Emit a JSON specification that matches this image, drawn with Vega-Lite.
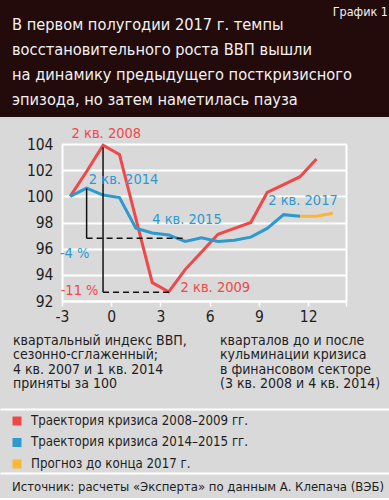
{
  "$schema": "https://vega.github.io/schema/vega-lite/v6.json",
  "padding": 0,
  "background": "#d9d9d9",
  "spacing": 9,
  "config": {
    "font": "'DejaVu Sans Condensed', 'Liberation Sans Narrow', sans-serif",
    "view": {"stroke": null},
    "axis": {"labelOverlap": false}
  },
  "datasets": {
    "title": [
      {"line": 0, "text": "В первом полугодии 2017 г. темпы"},
      {"line": 1, "text": "восстановительного роста ВВП вышли"},
      {"line": 2, "text": "на динамику предыдущего посткризисного"},
      {"line": 3, "text": "эпизода, но затем наметилась пауза"}
    ],
    "tag": [{"line": -0.522, "text": "График 1"}],
    "series": [
      {"q": -2.5, "v": 100.0, "s": "r"},
      {"q": -1.5, "v": 101.9, "s": "r"},
      {"q": -0.5, "v": 103.9, "s": "r"},
      {"q": 0.5, "v": 103.2, "s": "r"},
      {"q": 1.5, "v": 98.3, "s": "r"},
      {"q": 2.5, "v": 93.4, "s": "r"},
      {"q": 3.5, "v": 92.7, "s": "r"},
      {"q": 4.5, "v": 94.4, "s": "r"},
      {"q": 5.5, "v": 95.75, "s": "r"},
      {"q": 6.5, "v": 97.1, "s": "r"},
      {"q": 7.5, "v": 97.55, "s": "r"},
      {"q": 8.5, "v": 98.0, "s": "r"},
      {"q": 9.5, "v": 100.3, "s": "r"},
      {"q": 10.5, "v": 100.9, "s": "r"},
      {"q": 11.5, "v": 101.5, "s": "r"},
      {"q": 12.5, "v": 102.85, "s": "r"},
      {"q": -2.5, "v": 100.0, "s": "b"},
      {"q": -1.5, "v": 100.62, "s": "b"},
      {"q": -0.5, "v": 100.1, "s": "b"},
      {"q": 0.5, "v": 99.9, "s": "b"},
      {"q": 1.5, "v": 97.56, "s": "b"},
      {"q": 2.5, "v": 97.2, "s": "b"},
      {"q": 3.5, "v": 97.05, "s": "b"},
      {"q": 4.5, "v": 96.55, "s": "b"},
      {"q": 5.5, "v": 96.83, "s": "b"},
      {"q": 6.5, "v": 96.55, "s": "b"},
      {"q": 7.5, "v": 96.65, "s": "b"},
      {"q": 8.5, "v": 96.88, "s": "b"},
      {"q": 9.5, "v": 97.55, "s": "b"},
      {"q": 10.5, "v": 98.6, "s": "b"},
      {"q": 11.5, "v": 98.48, "s": "b"},
      {"q": 11.5, "v": 98.48, "s": "o"},
      {"q": 12.5, "v": 98.48, "s": "o"},
      {"q": 13.5, "v": 98.7, "s": "o"}
    ],
    "vlines": [
      {"q": -1.5, "v1": 100.6, "v2": 96.79},
      {"q": -0.5, "v1": 103.75, "v2": 92.66}
    ],
    "hlines": [
      {"q1": -1.5, "q2": 4.4, "v": 96.79},
      {"q1": -0.5, "q2": 3.6, "v": 92.66}
    ],
    "labels": [
      {"q": -0.3, "v": 104.74, "t": "2 кв. 2008", "s": "r"},
      {"q": 0.75, "v": 101.25, "t": "2 кв. 2014", "s": "b"},
      {"q": 4.61, "v": 98.19, "t": "4 кв. 2015", "s": "b"},
      {"q": 11.68, "v": 99.66, "t": "2 кв. 2017", "s": "b"},
      {"q": -2.23, "v": 95.59, "t": "-4 %", "s": "b"},
      {"q": -1.93, "v": 92.8, "t": "-11 %", "s": "r"},
      {"q": 6.34, "v": 93.03, "t": "2 кв. 2009", "s": "r"}
    ],
    "notes": [
      {"c": 0, "l": 0, "t": "квартальный индекс ВВП,"},
      {"c": 0, "l": 1, "t": "сезонно-сглаженный;"},
      {"c": 0, "l": 2, "t": "4 кв. 2007 и 1 кв. 2014"},
      {"c": 0, "l": 3, "t": "приняты за 100"},
      {"c": 1, "l": 0, "t": "кварталов до и после"},
      {"c": 1, "l": 1, "t": "кульминации кризиса"},
      {"c": 1, "l": 2, "t": "в финансовом секторе"},
      {"c": 1, "l": 3, "t": "(3 кв. 2008 и 4 кв. 2014)"}
    ],
    "legend": [
      {"i": 0, "s": "r", "t": "Траектория кризиса 2008–2009 гг."},
      {"i": 1, "s": "b", "t": "Траектория кризиса 2014–2015 гг."},
      {"i": 2, "s": "o", "t": "Прогноз до конца 2017 г."}
    ],
    "source": [{"t": "Источник: расчеты «Эксперта» по данным А. Клепача (ВЭБ)"}]
  },
  "vconcat": [
    {
      "width": 389,
      "height": 117,
      "view": {"fill": "#230b0b", "stroke": null},
      "layer": [
        {
          "data": {"name": "title"},
          "mark": {"type": "text", "align": "left", "baseline": "middle", "fontSize": 16.3, "color": "#f2f2f2"},
          "encoding": {
            "x": {"datum": 0.0308, "type": "quantitative", "scale": {"domain": [0, 1], "nice": false, "zero": false}, "axis": null},
            "y": {"field": "line", "type": "quantitative", "scale": {"domain": [-1.004, 3.695], "reverse": true, "nice": false, "zero": false}, "axis": null},
            "text": {"field": "text"}
          }
        },
        {
          "data": {"name": "tag"},
          "mark": {"type": "text", "align": "right", "baseline": "middle", "fontSize": 12.5, "color": "#f2f2f2"},
          "encoding": {
            "x": {"datum": 0.9974, "type": "quantitative", "scale": {"domain": [0, 1], "nice": false, "zero": false}, "axis": null},
            "y": {"field": "line", "type": "quantitative", "scale": {"domain": [-1.004, 3.695], "reverse": true, "nice": false, "zero": false}, "axis": null},
            "text": {"field": "text"}
          }
        }
      ]
    },
    {
      "spacing": 0,
      "vconcat": [
        {
          "spacing": 0,
          "bounds": "flush",
          "hconcat": [
            {
              "width": 62,
              "height": 157,
              "data": {"values": []},
              "mark": "point",
              "encoding": {
                "y": {
                  "field": "v", "type": "quantitative",
                  "scale": {"domain": [92, 104], "nice": false, "zero": false},
                  "axis": {
                    "orient": "left", "offset": -62, "values": [92, 94, 96, 98, 100, 102, 104],
                    "grid": false, "ticks": false, "domain": false, "labelOverlap": false,
                    "labelFontSize": 15.5, "labelColor": "#1e1e1e", "labelPadding": 9, "title": null
                  }
                }
              }
            },
            {
              "width": 284,
              "height": 157,
              "resolve": {"axis": {"x": "independent", "y": "independent"}},
              "layer": [
                {
                  "data": {"name": "series"},
                  "mark": {"type": "line", "strokeWidth": 3},
                  "encoding": {
                    "x": {
                      "field": "q", "type": "quantitative",
                      "scale": {"domain": [-3, 14.3], "nice": false, "zero": false},
                      "axis": {
                        "orient": "bottom", "values": [-3, 0, 3, 6, 9, 12, 14.3],
                        "labelExpr": "datum.value > 13 ? '' : (datum.value < 0 ? '-' + abs(datum.value) : datum.label)",
                        "domain": true, "domainColor": "#ffffff", "domainWidth": 2,
                        "grid": false, "ticks": true, "tickColor": "#ffffff", "tickWidth": 1.5, "tickSize": 5,
                        "labelFontSize": 15.5, "labelColor": "#1e1e1e", "labelPadding": 3, "labelFlush": false,
                        "title": null, "minExtent": 24, "maxExtent": 24, "zindex": 0
                      }
                    },
                    "y": {
                      "field": "v", "type": "quantitative",
                      "scale": {"domain": [92, 104], "nice": false, "zero": false},
                      "axis": {
                        "orient": "left", "values": [92, 94, 96, 98, 100, 102, 104],
                        "grid": true, "gridColor": "#ffffff", "gridWidth": 2, "gridOpacity": 1,
                        "labels": false, "ticks": false,
                        "domain": true, "domainColor": "#ffffff", "domainWidth": 2,
                        "title": null, "minExtent": 0, "maxExtent": 0, "zindex": 0
                      }
                    },
                    "color": {
                      "field": "s", "type": "nominal",
                      "scale": {"domain": ["r", "b", "o"], "range": ["#f04848", "#2a9ad0", "#fbb634"]},
                      "legend": null
                    }
                  }
                },
                {
                  "data": {"name": "vlines"},
                  "mark": {"type": "rule", "color": "#111111", "strokeWidth": 1.5},
                  "encoding": {
                    "x": {"field": "q", "type": "quantitative", "axis": null},
                    "y": {"field": "v1", "type": "quantitative", "axis": null},
                    "y2": {"field": "v2"}
                  }
                },
                {
                  "data": {"name": "hlines"},
                  "mark": {"type": "rule", "color": "#111111", "strokeWidth": 1.5, "strokeDash": [6, 4]},
                  "encoding": {
                    "x": {"field": "q1", "type": "quantitative", "axis": null},
                    "x2": {"field": "q2"},
                    "y": {
                      "field": "v", "type": "quantitative",
                      "axis": {
                        "orient": "right", "labels": false, "ticks": false, "grid": false,
                        "domain": true, "domainColor": "#ffffff", "domainWidth": 2,
                        "title": null, "minExtent": 0, "maxExtent": 0, "zindex": 0
                      }
                    }
                  }
                },
                {
                  "data": {"name": "labels"},
                  "mark": {"type": "text", "align": "center", "baseline": "middle", "fontSize": 14.5},
                  "encoding": {
                    "x": {"field": "q", "type": "quantitative", "axis": null},
                    "y": {"field": "v", "type": "quantitative", "axis": null},
                    "text": {"field": "t"},
                    "color": {"field": "s", "type": "nominal", "legend": null}
                  }
                }
              ]
            }
          ]
        },
        {
          "width": 389,
          "height": 84,
          "data": {"name": "notes"},
          "mark": {"type": "text", "align": "left", "baseline": "middle", "fontSize": 14, "color": "#1e1e1e"},
          "encoding": {
            "x": {
              "field": "c", "type": "quantitative",
              "scale": {"domain": [-0.0628, 1.8164], "nice": false, "zero": false},
              "axis": {"orient": "bottom", "labels": false, "ticks": false, "grid": false, "domain": true, "domainColor": "#ffffff", "domainWidth": 2, "title": null, "minExtent": 0, "maxExtent": 0}
            },
            "y": {"field": "l", "type": "quantitative", "scale": {"domain": [-1.1034, 4.6897], "reverse": true, "nice": false, "zero": false}, "axis": null},
            "text": {"field": "t"}
          }
        },
        {
          "width": 389,
          "height": 64,
          "data": {"name": "legend"},
          "layer": [
            {
              "mark": {"type": "point", "shape": "square", "filled": true, "size": 81, "opacity": 1},
              "encoding": {
                "x": {
                  "datum": 0, "type": "quantitative",
                  "scale": {"domain": [-0.0457, 1], "nice": false, "zero": false},
                  "axis": {"orient": "bottom", "labels": false, "ticks": false, "grid": false, "domain": true, "domainColor": "#ffffff", "domainWidth": 2, "title": null, "minExtent": 0, "maxExtent": 0}
                },
                "y": {"field": "i", "type": "quantitative", "scale": {"domain": [-0.5581, 2.4186], "reverse": true, "nice": false, "zero": false}, "axis": null},
                "color": {"field": "s", "type": "nominal", "legend": null}
              }
            },
            {
              "mark": {"type": "text", "align": "left", "baseline": "middle", "fontSize": 13.2, "color": "#1e1e1e", "dx": 14},
              "encoding": {
                "x": {"datum": 0, "type": "quantitative"},
                "y": {"field": "i", "type": "quantitative"},
                "text": {"field": "t"}
              }
            }
          ]
        },
        {
          "width": 389,
          "height": 25,
          "data": {"name": "source"},
          "mark": {"type": "text", "align": "left", "baseline": "middle", "fontSize": 13, "color": "#1e1e1e"},
          "encoding": {
            "x": {"datum": 0, "type": "quantitative", "scale": {"domain": [-0.0318, 1], "nice": false, "zero": false}, "axis": null},
            "y": {"datum": 0, "type": "quantitative", "scale": {"domain": [-0.56, 0.44], "reverse": true, "nice": false, "zero": false}, "axis": null},
            "text": {"field": "t"}
          }
        }
      ]
    }
  ]
}
